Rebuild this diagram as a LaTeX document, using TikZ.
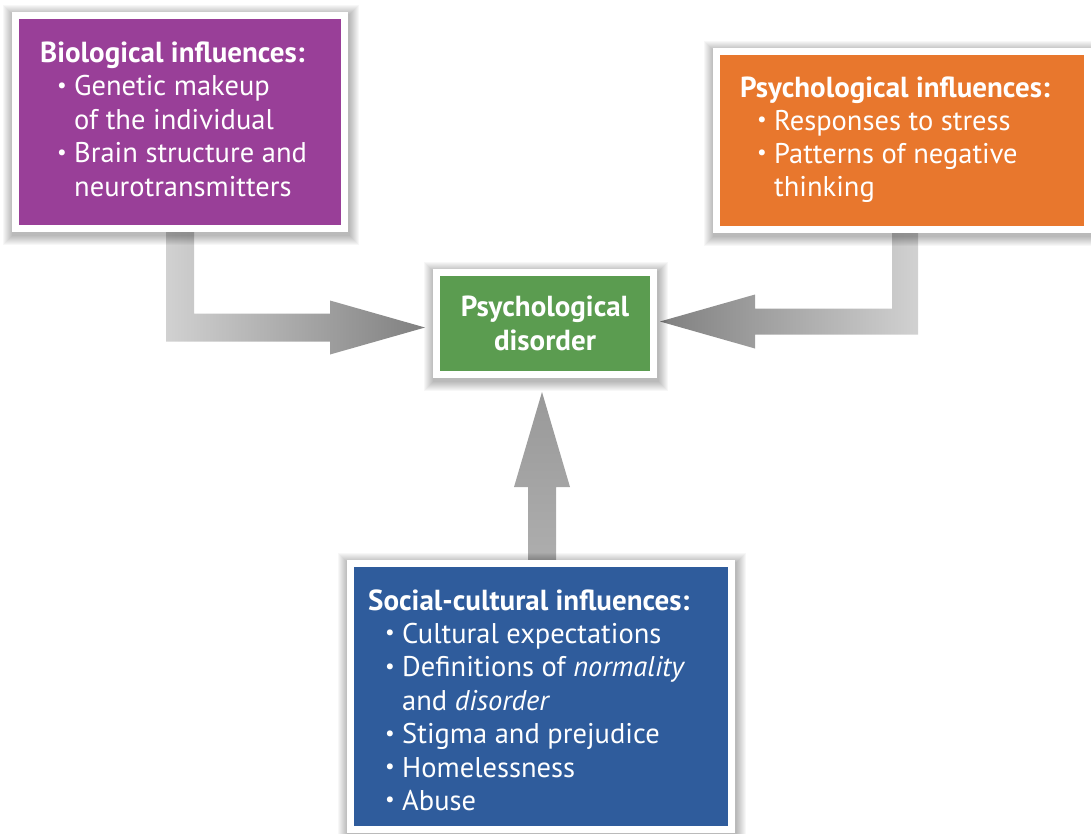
\documentclass[tikz,border=0pt]{standalone}
\usepackage{fontspec}
\setmainfont{PT Sans}
\usetikzlibrary{calc}
\pgfdeclarelayer{arrowlayer}
\pgfdeclarelayer{shadowlayer}
\pgfsetlayers{arrowlayer,shadowlayer,main}
\definecolor{bioc}{HTML}{993F98}
\definecolor{psyc}{HTML}{E8772D}
\definecolor{disc}{HTML}{5B9C50}
\definecolor{socc}{HTML}{2F5C9C}
\newcommand{\bul}{\makebox[34pt][l]{\hspace*{17pt}\raisebox{0.12em}{\scalebox{0.75}{\textbullet}}}}
\newcommand{\cont}{\hspace*{34pt}}
\begin{document}
\begin{tikzpicture}[x=1pt,y=-1pt,
  box/.style n args={3}{rectangle, fill=#1, minimum width=#2, minimum height=#3,
    draw=white, line width=7pt, inner sep=0pt},
  txt/.style={inner sep=0pt, text=white, font=\fontsize{28.5}{33.5}\selectfont},
]
\useasboundingbox (0,0) rectangle (1091,833);
% boxes
\node[box={bioc}{329pt}{213pt}] (bio) at (180,122) {};
\node[box={psyc}{371pt}{178pt}] (psy) at (902,140.5) {};
\node[box={disc}{217pt}{102pt}] (dis) at (545,323.5) {};
\node[box={socc}{381pt}{266pt}] (soc) at (541,696.5) {};
% shadows
\begin{pgfonlayer}{shadowlayer}
\foreach \n in {bio,psy,dis,soc}{
  \foreach \i in {1,...,10}{
    \fill[black,opacity=0.03] ($(\n.north west)+(-\i+1,-\i+3)$) rectangle ($(\n.south east)+(\i+1,\i+3)$);
  }
}
\end{pgfonlayer}
% arrows
\begin{pgfonlayer}{arrowlayer}
\coordinate (lt) at ($(dis.west)+(-8,4)$);
\coordinate (lc) at (bio.south |- lt);
\shade[left color=black!18, right color=black!50]
  ($(bio.south)+(-14,0)$) -- ($(bio.south)+(14,0)$) -- ($(lc)+(14,-14)$) --
  ($(lt)+(-95,-14)$) -- ($(lt)+(-95,-27)$) -- (lt) -- ($(lt)+(-95,27)$) --
  ($(lt)+(-95,14)$) -- ($(lc)+(-14,14)$) -- cycle;
\coordinate (rt) at ($(dis.east)+(3,-2)$);
\coordinate (ps) at ($(psy.south)+(3,0)$);
\coordinate (rc) at (ps |- rt);
\shade[left color=black!50, right color=black!18]
  ($(ps)+(13,0)$) -- ($(ps)+(-13,0)$) -- ($(rc)+(-13,-13)$) --
  ($(rt)+(95,-13)$) -- ($(rt)+(95,-27)$) -- (rt) -- ($(rt)+(95,27)$) --
  ($(rt)+(95,13)$) -- ($(rc)+(13,13)$) -- cycle;
\coordinate (ut) at ($(dis.south)+(-3,14)$);
\coordinate (ub) at (ut |- soc.north);
\shade[top color=black!40, bottom color=black!32]
  ($(ub)+(-14,0)$) -- ($(ut)+(-14,95)$) -- ($(ut)+(-28,95)$) -- (ut) --
  ($(ut)+(28,95)$) -- ($(ut)+(14,95)$) -- ($(ub)+(14,0)$) -- cycle;
\end{pgfonlayer}
% texts
\node[txt, anchor=base west] (biot) at (40,62) {\vtop{\baselineskip=33.5pt
  \hbox{\fontsize{29}{33.5}\selectfont\bfseries Biological influences:}
  \hbox{\bul Genetic makeup}
  \hbox{\cont of the individual}
  \hbox{\bul Brain structure and}
  \hbox{\cont neurotransmitters}}};
\node[txt, anchor=base west] (psyt) at (740,97) {\vtop{\baselineskip=33.2pt
  \hbox{\fontsize{29}{33.5}\selectfont\bfseries Psychological influences:}
  \hbox{\bul Responses to stress}
  \hbox{\bul Patterns of negative}
  \hbox{\cont thinking}}};
\node[txt, align=center, font=\fontsize{29}{34}\selectfont\bfseries] (dist) at (dis.center) {Psychological\\disorder};
\node[txt, anchor=base west] (soct) at (368,610) {\vtop{\baselineskip=33.4pt
  \hbox{\fontsize{29}{33.5}\selectfont\bfseries Social-cultural influences:}
  \hbox{\bul Cultural expectations}
  \hbox{\bul Definitions of \textit{normality}}
  \hbox{\cont and \textit{disorder}}
  \hbox{\bul Stigma and prejudice}
  \hbox{\bul Homelessness}
  \hbox{\bul Abuse}}};
\end{tikzpicture}
\end{document}
